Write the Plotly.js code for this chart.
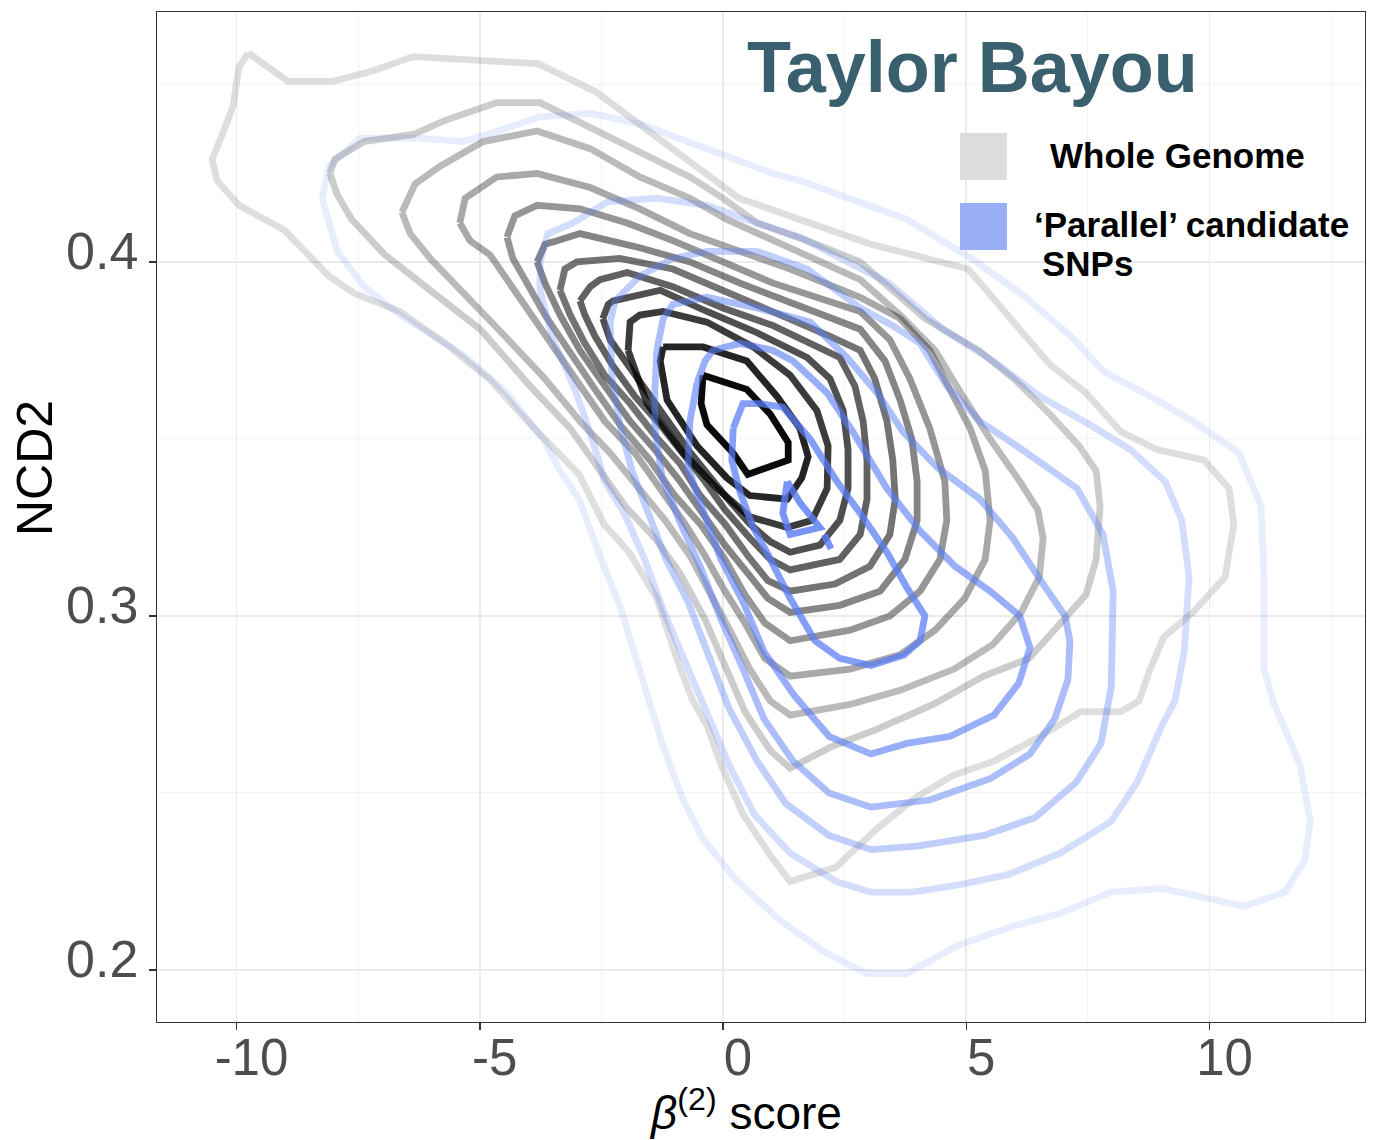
<!DOCTYPE html>
<html>
<head>
<meta charset="utf-8">
<script src="https://cdn.plot.ly/plotly-3.0.1.min.js"></script>
<style>html,body{margin:0;padding:0;background:#fff;}#chart{width:1375px;height:1140px;}</style>
</head>
<body>
<div id="chart"></div>
<script>
// ---- Whole genome density contours (outer -> inner), beta(2) score vs NCD2 ----
const g1x = [-9.76,-8.94,-8.02,-7.19,-6.37,-3.80,-2.61,-1.42,0.33,1.58,3.04,5.04,6.13,6.72,7.46,8.18,8.92,9.89,10.40,10.50,10.32,9.66,9.06,8.78,8.55,8.18,7.36,6.52,5.57,4.73,3.99,3.17,2.32,1.38,0.99,0.41,-0.04,-0.33,-0.62,-0.90,-1.36,-1.93,-2.45,-2.96,-3.88,-4.81,-5.71,-6.64,-7.56,-8.10,-9.02,-9.95,-10.40,-10.50,-10.32,-10.07,-9.95];
const g1y = [0.459,0.451,0.451,0.454,0.458,0.456,0.448,0.436,0.418,0.412,0.405,0.398,0.380,0.371,0.363,0.352,0.347,0.344,0.336,0.326,0.311,0.301,0.294,0.285,0.276,0.273,0.273,0.266,0.259,0.255,0.249,0.240,0.229,0.225,0.232,0.244,0.258,0.269,0.276,0.286,0.305,0.318,0.326,0.340,0.353,0.367,0.377,0.386,0.391,0.396,0.409,0.416,0.423,0.429,0.435,0.444,0.455];
const g2x = [-8.08,-7.98,-7.38,-6.37,-5.71,-4.65,-3.76,-2.73,-1.71,-0.68,0.00,0.70,1.73,2.82,4.15,5.26,5.98,6.72,7.32,7.67,7.75,7.67,7.46,6.95,6.29,5.36,4.32,3.17,2.22,1.38,0.97,0.45,0.04,-0.37,-0.88,-1.40,-2.01,-2.53,-3.14,-3.97,-4.99,-6.02,-6.95,-7.63,-7.93];
const g2y = [0.425,0.429,0.434,0.436,0.440,0.445,0.445,0.438,0.431,0.424,0.418,0.411,0.406,0.400,0.384,0.375,0.367,0.357,0.348,0.341,0.331,0.316,0.306,0.298,0.288,0.283,0.275,0.268,0.263,0.257,0.262,0.273,0.286,0.299,0.312,0.322,0.331,0.341,0.353,0.365,0.381,0.392,0.402,0.412,0.419];
const g3x = [-6.60,-6.33,-5.82,-4.93,-3.82,-2.73,-1.71,-0.68,0.08,1.03,2.06,2.82,3.64,4.36,4.89,5.49,6.10,6.47,6.58,6.50,6.13,5.55,4.75,3.64,2.61,1.38,0.97,0.55,0.14,-0.27,-0.68,-1.19,-1.71,-2.32,-2.94,-3.66,-4.48,-5.30,-6.02,-6.43];
const g3y = [0.414,0.422,0.427,0.434,0.437,0.432,0.424,0.418,0.412,0.406,0.400,0.395,0.385,0.375,0.363,0.350,0.338,0.330,0.322,0.311,0.301,0.292,0.285,0.279,0.275,0.272,0.276,0.285,0.296,0.307,0.317,0.327,0.336,0.346,0.355,0.367,0.379,0.391,0.401,0.408];
const g4x = [-5.41,-5.30,-4.65,-3.82,-2.73,-1.71,-0.68,0.35,1.38,2.82,3.64,4.25,4.67,5.08,5.39,5.49,5.39,4.97,4.36,3.64,2.61,1.38,0.86,0.45,0.04,-0.37,-0.78,-1.29,-1.81,-2.43,-3.04,-3.66,-4.28,-4.79,-5.20];
const g4y = [0.411,0.418,0.424,0.425,0.421,0.415,0.408,0.403,0.398,0.390,0.384,0.375,0.364,0.353,0.341,0.327,0.316,0.305,0.296,0.289,0.285,0.283,0.288,0.298,0.307,0.317,0.326,0.336,0.346,0.355,0.367,0.379,0.392,0.402,0.406];
const g5x = [-4.44,-4.28,-3.82,-2.94,-1.97,-1.03,0.00,1.03,2.82,3.43,3.84,4.25,4.56,4.60,4.46,4.05,3.43,2.61,1.38,0.86,0.45,0.04,-0.47,-0.99,-1.50,-2.12,-2.63,-3.14,-3.66,-4.07,-4.32];
const g5y = [0.407,0.413,0.416,0.415,0.411,0.406,0.400,0.394,0.386,0.378,0.367,0.353,0.338,0.327,0.316,0.307,0.300,0.296,0.293,0.298,0.306,0.316,0.326,0.334,0.344,0.354,0.364,0.374,0.385,0.395,0.401];
const g6x = [-3.82,-3.66,-3.41,-2.94,-1.71,-0.68,0.35,1.73,2.82,3.33,3.64,3.88,3.99,3.99,3.74,3.23,2.40,1.38,0.92,0.51,0.04,-0.47,-0.88,-1.40,-1.91,-2.43,-2.94,-3.35,-3.66];
const g6y = [0.400,0.405,0.406,0.408,0.404,0.400,0.394,0.387,0.381,0.372,0.361,0.350,0.338,0.327,0.316,0.307,0.303,0.301,0.305,0.312,0.320,0.330,0.338,0.347,0.355,0.365,0.375,0.385,0.394];
const g7x = [-3.35,-3.25,-3.00,-2.12,-1.03,0.00,1.03,2.20,2.82,3.12,3.37,3.49,3.54,3.43,3.02,2.30,1.38,0.92,0.51,0.04,-0.47,-0.88,-1.40,-1.91,-2.43,-2.84,-3.14];
const g7y = [0.392,0.398,0.400,0.401,0.398,0.392,0.386,0.379,0.375,0.367,0.355,0.344,0.333,0.323,0.314,0.309,0.307,0.310,0.317,0.326,0.334,0.343,0.351,0.360,0.368,0.377,0.385];
const g8x = [-2.94,-2.73,-2.53,-1.97,-1.03,0.00,1.03,2.40,2.71,2.88,2.96,2.96,2.82,2.40,1.38,0.97,0.55,0.04,-0.37,-0.84,-1.29,-1.81,-2.28,-2.63,-2.84];
const g8y = [0.389,0.393,0.395,0.397,0.393,0.387,0.382,0.373,0.365,0.355,0.344,0.333,0.323,0.316,0.313,0.316,0.322,0.330,0.338,0.346,0.354,0.362,0.371,0.379,0.385];
const g9x = [-2.47,-2.36,-2.26,-1.29,-0.33,0.70,1.73,2.20,2.47,2.57,2.57,2.40,1.99,1.38,0.97,0.55,0.10,-0.33,-0.72,-1.13,-1.60,-2.01,-2.32];
const g9y = [0.384,0.388,0.389,0.392,0.386,0.380,0.373,0.367,0.358,0.347,0.336,0.327,0.320,0.318,0.321,0.326,0.333,0.340,0.347,0.355,0.364,0.372,0.378];
const g10x = [-1.95,-1.91,-1.71,-1.23,-0.33,0.62,1.38,1.93,2.16,2.14,1.83,1.32,0.55,-0.12,-0.82,-1.56];
const g10y = [0.375,0.383,0.385,0.386,0.383,0.376,0.368,0.358,0.348,0.336,0.327,0.325,0.328,0.336,0.346,0.360];
const g11x = [-1.23,-0.41,0.49,1.11,1.58,1.75,1.62,1.32,0.55,0.08,-0.53,-1.15,-1.29];
const g11y = [0.376,0.376,0.372,0.362,0.353,0.345,0.339,0.333,0.334,0.339,0.348,0.361,0.372];
const g12x = [-0.41,0.04,0.49,0.97,1.34,1.34,0.51,0.21,-0.33,-0.45];
const g12y = [0.368,0.366,0.364,0.357,0.349,0.344,0.340,0.346,0.354,0.360];

// ---- 'Parallel' candidate SNP density contours (outer -> inner) ----
const p1x = [-8.24,-8.10,-7.46,-6.27,-5.36,-4.62,-3.76,-2.73,-1.71,-0.33,1.03,1.58,2.82,3.78,5.10,6.13,7.15,7.83,8.92,9.66,10.61,11.06,11.12,11.12,11.33,11.86,12.07,11.96,11.55,10.71,9.02,7.98,6.93,5.88,4.83,3.78,2.94,2.10,1.17,0.23,-0.41,-0.82,-1.25,-1.64,-2.10,-2.53,-2.96,-3.35,-3.70,-4.44,-5.36,-6.64,-7.38,-7.93];
const p1y = [0.418,0.427,0.435,0.435,0.434,0.437,0.441,0.442,0.439,0.432,0.425,0.423,0.417,0.412,0.401,0.391,0.379,0.369,0.361,0.355,0.346,0.331,0.311,0.285,0.275,0.258,0.242,0.231,0.222,0.218,0.223,0.222,0.216,0.212,0.207,0.199,0.199,0.205,0.214,0.226,0.237,0.248,0.264,0.282,0.302,0.317,0.333,0.341,0.350,0.363,0.374,0.385,0.393,0.403];
const p2x = [-3.76,-3.60,-3.08,-2.38,-1.36,-0.33,0.70,1.58,3.41,4.52,5.55,6.52,7.54,8.37,9.09,9.43,9.58,9.48,9.29,9.02,8.51,7.98,6.93,5.88,4.83,3.88,3.04,2.32,1.38,0.64,0.12,-0.31,-0.76,-1.21,-1.64,-2.03,-2.43,-2.69,-3.04,-3.49,-3.76];
const p2y = [0.400,0.408,0.411,0.417,0.418,0.416,0.411,0.407,0.394,0.381,0.372,0.362,0.354,0.347,0.338,0.327,0.311,0.290,0.276,0.269,0.253,0.242,0.233,0.227,0.224,0.222,0.222,0.225,0.233,0.244,0.258,0.272,0.286,0.301,0.317,0.329,0.338,0.350,0.364,0.378,0.392];
const p3x = [-2.32,-2.22,-1.71,-1.03,-0.33,0.70,1.73,2.82,3.49,4.05,4.60,5.28,6.25,7.28,7.81,8.02,7.98,7.77,7.26,6.41,5.36,3.99,3.04,2.18,1.29,0.70,0.12,-0.33,-0.72,-1.17,-1.54,-1.87,-2.12,-2.28];
const p3y = [0.383,0.389,0.396,0.401,0.403,0.403,0.398,0.387,0.382,0.377,0.365,0.355,0.346,0.336,0.323,0.307,0.280,0.264,0.253,0.243,0.238,0.235,0.234,0.238,0.247,0.259,0.274,0.290,0.304,0.316,0.329,0.341,0.354,0.367];
const p4x = [-1.36,-1.23,-1.03,-0.33,0.70,1.79,2.55,3.17,3.70,4.40,5.28,5.96,6.58,7.03,7.13,7.09,6.82,6.31,5.49,4.25,3.04,2.18,1.44,0.84,0.41,-0.04,-0.47,-0.90,-1.25,-1.40,-1.40];
const p4y = [0.375,0.384,0.388,0.390,0.387,0.383,0.373,0.363,0.352,0.342,0.333,0.322,0.309,0.300,0.293,0.282,0.271,0.261,0.254,0.248,0.246,0.250,0.259,0.271,0.285,0.299,0.314,0.327,0.339,0.353,0.364];
const p5x = [-0.53,-0.37,-0.21,0.35,1.03,1.44,2.14,2.67,3.37,4.05,4.77,5.49,6.10,6.31,6.08,5.57,4.67,3.78,3.04,2.18,1.44,0.84,0.41,-0.04,-0.47,-0.72,-0.68];
const p5y = [0.366,0.372,0.375,0.377,0.375,0.372,0.363,0.352,0.336,0.324,0.314,0.307,0.300,0.291,0.281,0.272,0.266,0.264,0.261,0.266,0.278,0.290,0.304,0.316,0.332,0.342,0.355];
const p6x = [0.21,0.41,0.76,1.23,1.79,2.34,2.82,3.37,3.78,4.15,4.05,3.72,3.04,2.40,1.89,1.38,0.90,0.62,0.35,0.18];
const p6y = [0.353,0.360,0.360,0.359,0.350,0.338,0.329,0.318,0.308,0.300,0.293,0.289,0.286,0.288,0.293,0.305,0.318,0.325,0.335,0.344];
const p7x = [1.32,1.58,1.99,1.38,1.23];
const p7y = [0.338,0.332,0.325,0.323,0.329];
const p8x = [2.08,2.22];
const p8y = [0.323,0.319];

// tick labels
const xTicks = [-10, -5, 0, 5, 10];
const xTickText = ['-10', '-5', '0', '5', '10'];
const yTicks = [0.2, 0.3, 0.4];
const yTickText = ['0.2', '0.3', '0.4'];

const grayRings = [[g1x,g1y],[g2x,g2y],[g3x,g3y],[g4x,g4y],[g5x,g5y],[g6x,g6y],[g7x,g7y],[g8x,g8y],[g9x,g9y],[g10x,g10y],[g11x,g11y],[g12x,g12y]];
const grayAlpha = [0.13,0.2,0.27,0.34,0.41,0.48,0.55,0.62,0.69,0.77,0.86,0.96];
const blueRings = [[p1x,p1y,true],[p2x,p2y,true],[p3x,p3y,true],[p4x,p4y,true],[p5x,p5y,true],[p6x,p6y,true],[p7x,p7y,true],[p8x,p8y,false]];
const blueAlpha = [0.14,0.26,0.38,0.5,0.62,0.74,0.82,0.82];

function ring(xs, ys, color, closed) {
  const x = closed ? xs.concat([xs[0]]) : xs.slice();
  const y = closed ? ys.concat([ys[0]]) : ys.slice();
  return {type:'scatter', mode:'lines', x:x, y:y,
    line:{color:color, width:6.8, shape:'linear'},
    hoverinfo:'skip', showlegend:false};
}
const traces = [];
grayRings.forEach((r,i)=>traces.push(ring(r[0], r[1], 'rgba(0,0,0,'+grayAlpha[i]+')', true)));
blueRings.forEach((r,i)=>traces.push(ring(r[0], r[1], 'rgba(90,125,245,'+blueAlpha[i]+')', r[2])));

const FONT = 'Liberation Sans, Arial, Helvetica, sans-serif';
const layout = {
  width:1375, height:1140,
  margin:{l:157, r:10, t:12, b:118, pad:0},
  paper_bgcolor:'#ffffff', plot_bgcolor:'#ffffff',
  showlegend:false, hovermode:false,
  xaxis:{range:[-11.634, 13.196], tickmode:'array', tickvals:xTicks, ticktext:xTickText,
    ticks:'outside', ticklen:7, tickwidth:1.5, tickcolor:'#333333',
    ticklabelstandoff:-16, ticklabelshift:15,
    tickfont:{family:FONT, size:51, color:'#4d4d4d'},
    showgrid:true, gridcolor:'#ebebeb', gridwidth:1.6,
    minor:{dtick:2.5, tick0:0, showgrid:true, gridcolor:'#f4f4f4', gridwidth:1, ticks:''},
    zeroline:false, showline:true, mirror:true, linecolor:'#333333', linewidth:1.2},
  yaxis:{range:[0.1853, 0.4706], tickmode:'array', tickvals:yTicks, ticktext:yTickText,
    ticks:'outside', ticklen:7, tickwidth:1.5, tickcolor:'#333333',
    ticklabelshift:-11,
    tickfont:{family:FONT, size:52, color:'#4d4d4d'},
    showgrid:true, gridcolor:'#ebebeb', gridwidth:1.6,
    minor:{dtick:0.05, tick0:0, showgrid:true, gridcolor:'#f4f4f4', gridwidth:1, ticks:''},
    zeroline:false, showline:true, mirror:true, linecolor:'#333333', linewidth:1.2},
  shapes:[
    {type:'rect', xref:'paper', yref:'paper', x0:0.6647, x1:0.7036, y0:0.8337, y1:0.8802, fillcolor:'#dcdcdc', line:{width:0}},
    {type:'rect', xref:'paper', yref:'paper', x0:0.6647, x1:0.7036, y0:0.7644, y1:0.8109, fillcolor:'#9aaef8', line:{width:0}}
  ],
  annotations:[
    {xref:'paper', yref:'paper', x:0.6747, y:0.9455, xanchor:'center', yanchor:'middle', showarrow:false,
     text:'<b>Taylor Bayou</b>', font:{family:FONT, size:72, color:'#3a5f6e'}},
    {xref:'paper', yref:'paper', x:0.7376, y:0.8584, xanchor:'left', yanchor:'middle', showarrow:false,
     text:'<b>Whole Genome</b>', font:{family:FONT, size:35, color:'#000000'}},
    {xref:'paper', yref:'paper', x:0.7243, y:0.790, xanchor:'left', yanchor:'middle', showarrow:false,
     text:'<b>\u2018Parallel\u2019 candidate</b>', font:{family:FONT, size:35, color:'#000000'}},
    {xref:'paper', yref:'paper', x:0.7310, y:0.7505, xanchor:'left', yanchor:'middle', showarrow:false,
     text:'<b>SNPs</b>', font:{family:FONT, size:35, color:'#000000'}},
    {xref:'paper', yref:'paper', x:-0.101, y:0.5485, xanchor:'center', yanchor:'middle', showarrow:false,
     textangle:-90, text:'NCD2', font:{family:FONT, size:50, color:'#000000'}},
    {xref:'paper', yref:'paper', x:0.4868, y:-0.0871, xanchor:'center', yanchor:'middle', showarrow:false,
     text:'<i>\u03b2</i><sup>(2)</sup> score', font:{family:FONT, size:46, color:'#000000'}}
  ]
};
Plotly.newPlot('chart', traces, layout, {displayModeBar:false, staticPlot:true});
</script>
</body>
</html>
